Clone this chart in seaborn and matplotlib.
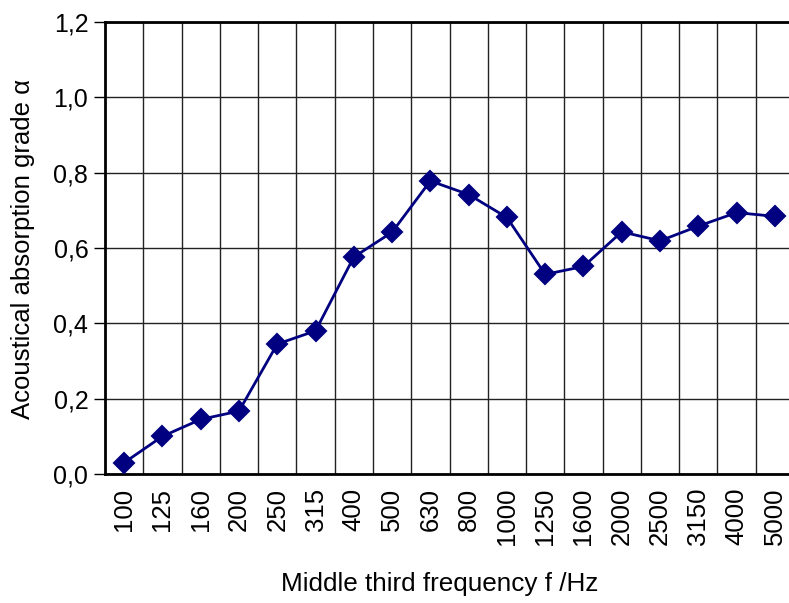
import matplotlib
matplotlib.use("Agg")
import matplotlib.pyplot as plt
import seaborn as sns
import pandas as pd

# third-octave centre frequencies and measured absorption
freqs = ["100", "125", "160", "200", "250", "315", "400", "500", "630",
         "800", "1000", "1250", "1600", "2000", "2500", "3150", "4000", "5000"]
alpha = [0.03, 0.10, 0.145, 0.167, 0.345, 0.38, 0.576, 0.642, 0.778,
         0.742, 0.681, 0.530, 0.551, 0.643, 0.619, 0.658, 0.694, 0.684]
yticks = [0.0, 0.2, 0.4, 0.6, 0.8, 1.0, 1.2]
ytick_labels = ["0,0", "0,2", "0,4", "0,6", "0,8", "1,0", "1,2"]

df = pd.DataFrame({"freq": freqs, "alpha": alpha})

sns.set_style("white")
plt.rcParams["font.family"] = ["Liberation Sans", "DejaVu Sans"]

fig = plt.figure(figsize=(7.89, 6.03), dpi=100)
ax = fig.add_axes([105 / 789, 1 - 474 / 603, 689 / 789, 452 / 603])

sns.pointplot(data=df, x="freq", y="alpha", order=freqs, ax=ax,
              color="#000080", markers="D", linestyles="-",
              errorbar=None, markersize=10, linewidth=2, zorder=5)

n = len(freqs)
ax.set_xlim(-0.5, n - 0.5)
ax.set_ylim(0, 1.2)

# grid: horizontal at major y ticks, vertical between categories
ax.set_xticks(range(n))
ax.set_xticklabels(freqs, rotation=90, fontsize=18.5)
ax.set_xticks([i - 0.5 for i in range(1, n)], minor=True)
ax.set_yticks(yticks)
ax.set_yticklabels(ytick_labels, fontsize=18)
ax.grid(False)
ax.xaxis.grid(True, which="minor", color="#222222", linewidth=1)
ax.yaxis.grid(True, which="major", color="#222222", linewidth=1)
ax.set_axisbelow(True)

ax.tick_params(axis="x", which="major", direction="in", length=5,
               width=1, pad=10, colors="black")
ax.tick_params(axis="x", which="minor", length=0)
ax.tick_params(axis="y", direction="out", length=8, width=1, pad=4,
               colors="black", left=True)

for side in ["left", "bottom", "top"]:
    ax.spines[side].set_visible(True)
    ax.spines[side].set_color("black")
    ax.spines[side].set_linewidth(2)
ax.spines["right"].set_visible(False)

ax.set_xlabel("Middle third frequency f /Hz", fontsize=18.8, color="black")
ax.set_ylabel("Acoustical absorption grade \u03b1", fontsize=18.5, color="black")
# place labels where the reference has them (pixel positions)
ax.xaxis.set_label_coords((440 - 105) / 689, -(572 - 474) / 452)
ax.yaxis.set_label_coords(-(105 - 35) / 689, (474 - 249) / 452)

fig.savefig("out.png", dpi=100)
